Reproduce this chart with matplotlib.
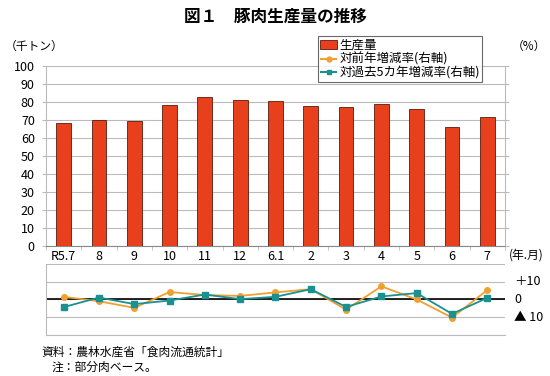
import matplotlib
matplotlib.use("Agg")
import matplotlib.pyplot as plt
import numpy as np

plt.rcParams['font.family'] = ['Noto Sans CJK JP', 'DejaVu Sans']

categories = ["R5.7", "8", "9", "10", "11", "12", "6.1", "2", "3", "4", "5", "6", "7"]
production = [68.3, 70.2, 69.5, 78.6, 82.7, 81.2, 80.3, 77.7, 77.3, 79.0, 76.2, 66.1, 71.5]
yoy_rate = [1.5, -1.0, -4.7, 4.2, 2.5, 2.0, 4.0, 5.8, -5.7, 7.4, 0.0, -10.2, 5.3]
five_year_rate = [-4.3, 1.1, -2.6, -0.6, 2.8, 0.2, 1.5, 5.8, -4.2, 1.7, 3.6, -8.1, 0.9]
right_tick_labels = ["＋10", "0", "▲ 10"]

BAR = "#E8401C"
ORANGE = "#F0A030"
TEAL = "#1A9090"
GRID = "#BBBBBB"

fig = plt.figure(figsize=(5.5, 3.76), dpi=100)
x = np.arange(len(categories))

ax = fig.add_axes([0.0836, 0.3457, 0.8345, 0.4788])
ax.bar(x, production, width=0.42, color=BAR, edgecolor="#5a1a0a", linewidth=0.6, zorder=3)
ax.set_xlim(-0.5, len(categories) - 0.5)
ax.set_ylim(0, 100)
ax.set_yticks(range(0, 101, 10))
ax.yaxis.grid(True, color=GRID, linewidth=0.8, zorder=0)
ax.tick_params(axis='y', labelsize=9, length=3, color=GRID, pad=5)
ax.set_xticks(x)
ax.set_xticklabels(categories, fontsize=9)
ax.set_xticks(np.arange(-0.5, len(categories), 1), minor=True)
ax.tick_params(axis='x', which='major', length=0, pad=3)
ax.tick_params(axis='x', which='minor', length=3, color=GRID)
ax.spines["top"].set_visible(False)
for s in ["left", "right", "bottom"]:
    ax.spines[s].set_color(GRID)
ax.spines["bottom"].set_color("#888888")
axr = ax.twinx()
axr.set_ylim(0, 100)
axr.set_yticks(range(0, 101, 10))
axr.tick_params(axis='y', length=3, color=GRID, labelright=False)
for s in axr.spines.values():
    s.set_visible(False)

ax2 = fig.add_axes([0.0836, 0.109, 0.8345, 0.189])
ax2.set_xlim(-0.5, len(categories) - 0.5)
ax2.set_ylim(-20, 20)
ax2.set_yticks([-20, -10, 0, 10, 20])
ax2.yaxis.grid(True, color=GRID, linewidth=0.8, zorder=0)
ax2.axhline(0, color="black", linewidth=1.2, zorder=2)
ax2.plot(x, yoy_rate, color=ORANGE, marker="o", markersize=4, linewidth=1.3, zorder=3)
ax2.plot(x, five_year_rate, color=TEAL, marker="s", markersize=4, linewidth=1.3, zorder=4)
ax2.set_xticks([])
ax2.tick_params(axis='y', left=False, labelleft=False, right=False, labelright=False)
ax2.spines["top"].set_visible(False)
ax2.spines["right"].set_visible(False)
ax2.spines["left"].set_color(GRID)
ax2.spines["bottom"].set_color(GRID)
for val, lab in zip([10, 0, -10], right_tick_labels):
    ax2.text(1.02, val, lab, transform=ax2.get_yaxis_transform(), fontsize=9, va="center", ha="left")

from matplotlib.patches import Patch
from matplotlib.lines import Line2D
handles = [Patch(facecolor=BAR, edgecolor="#5a1a0a", linewidth=0.6),
           Line2D([0], [0], color=ORANGE, marker="o", markersize=3.5, linestyle="--"),
           Line2D([0], [0], color=TEAL, marker="s", markersize=3.5, linestyle="--")]
labels = ["生産量", "対前年増減率(右軸)", "対過去5カ年増減率(右軸)"]
leg = fig.legend(handles, labels, loc="upper left", bbox_to_anchor=(0.578, 0.903),
                 fontsize=9, frameon=True, fancybox=False, edgecolor="#444444",
                 handlelength=1.3, handletextpad=0.2, borderpad=0.2, labelspacing=0.05,
                 borderaxespad=0)
leg.get_frame().set_linewidth(0.8)

fig.text(0.5, 0.955, "図１　豚肉生産量の推移", ha="center", va="center", fontsize=12, fontweight="bold")
fig.text(0.008, 0.878, "（千トン）", ha="left", va="center", fontsize=8.5)
fig.text(0.93, 0.878, "（%）", ha="left", va="center", fontsize=8.5)
fig.text(0.925, 0.322, "(年.月)", ha="left", va="center", fontsize=8.5)
fig.text(0.076, 0.062, "資料：農林水産省「食肉流通統計」", ha="left", va="center", fontsize=8.5)
fig.text(0.094, 0.022, "注：部分肉ベース。", ha="left", va="center", fontsize=8.5)

fig.savefig("out.png", dpi=100)
